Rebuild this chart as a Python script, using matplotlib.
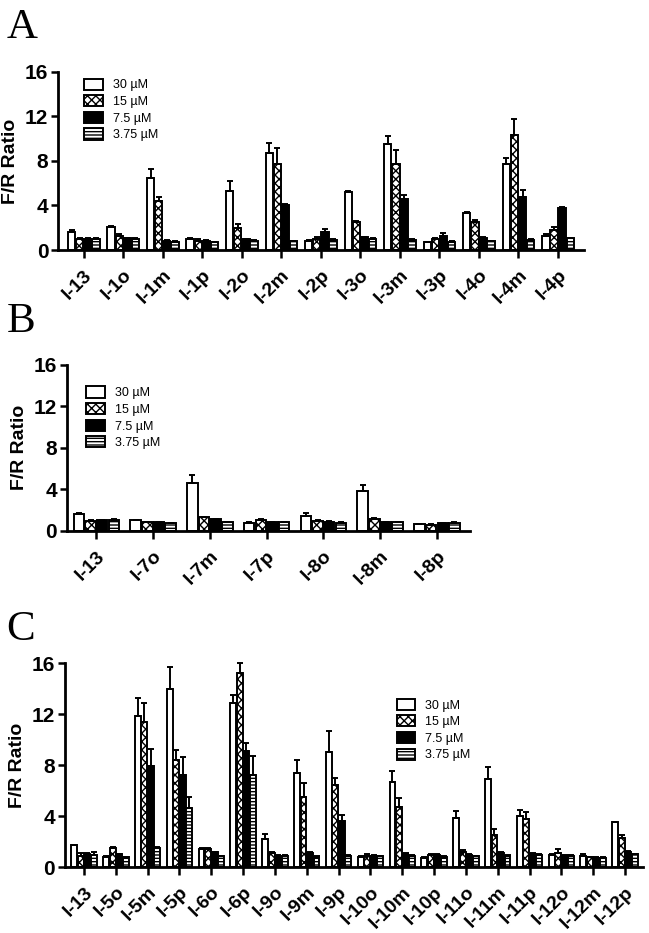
import matplotlib
matplotlib.use('Agg')
import matplotlib.pyplot as plt
import numpy as np

plt.rcParams.update({
    'font.family': ['Liberation Sans', 'DejaVu Sans'],
    'hatch.linewidth': 1.0,
    'axes.linewidth': 2.0,
})

# ========== DATA ==========
conc = ['30 µM', '15 µM', '7.5 µM', '3.75 µM']

a_labels = ['I-13', 'I-1o', 'I-1m', 'I-1p', 'I-2o', 'I-2m', 'I-2p',
            'I-3o', 'I-3m', 'I-3p', 'I-4o', 'I-4m', 'I-4p']
a_means = [
    [1.65, 2.1, 6.5, 0.95, 5.3, 8.75, 0.85, 5.2, 9.5, 0.7, 3.3, 7.7, 1.3],
    [0.95, 1.25, 4.4, 0.85, 1.95, 7.7, 1.0, 2.5, 7.7, 1.0, 2.5, 10.35, 1.8],
    [1.0, 1.05, 0.85, 0.85, 0.95, 4.0, 1.65, 1.15, 4.55, 1.3, 1.1, 4.8, 3.8],
    [1.0, 1.0, 0.75, 0.7, 0.85, 0.8, 0.9, 1.0, 0.9, 0.75, 0.8, 0.9, 1.05],
]
a_errs = [
    [0.15, 0.1, 0.8, 0.1, 0.9, 0.85, 0.05, 0.1, 0.7, 0.05, 0.1, 0.6, 0.15],
    [0.1, 0.15, 0.4, 0.15, 0.35, 1.5, 0.2, 0.1, 1.3, 0.1, 0.2, 1.45, 0.3],
    [0.05, 0.05, 0.05, 0.05, 0.05, 0.1, 0.2, 0.05, 0.4, 0.2, 0.1, 0.6, 0.1],
    [0.05, 0.05, 0.05, 0.05, 0.05, 0.05, 0.05, 0.05, 0.05, 0.05, 0.05, 0.05, 0.05],
]

b_labels = ['I-13', 'I-7o', 'I-7m', 'I-7p', 'I-8o', 'I-8m', 'I-8p']
b_means = [
    [1.65, 1.0, 4.65, 0.8, 1.45, 3.8, 0.65],
    [0.95, 0.85, 1.3, 1.05, 0.95, 1.15, 0.6],
    [1.0, 0.85, 1.1, 0.85, 0.9, 0.85, 0.75],
    [1.0, 0.75, 0.85, 0.85, 0.8, 0.85, 0.8],
]
b_errs = [
    [0.05, 0.05, 0.75, 0.05, 0.3, 0.6, 0.05],
    [0.05, 0.05, 0.05, 0.1, 0.05, 0.05, 0.05],
    [0.05, 0.05, 0.05, 0.05, 0.05, 0.05, 0.05],
    [0.1, 0.05, 0.05, 0.05, 0.05, 0.05, 0.05],
]

c_labels = ['I-13', 'I-5o', 'I-5m', 'I-5p', 'I-6o', 'I-6p', 'I-9o', 'I-9m', 'I-9p',
            'I-10o', 'I-10m', 'I-10p', 'I-11o', 'I-11m', 'I-11p', 'I-12o', 'I-12m', 'I-12p']
c_means = [
    [1.7, 0.8, 11.87, 14.0, 1.45, 12.9, 2.2, 7.4, 9.0, 0.8, 6.65, 0.7, 3.85, 6.9, 4.0, 0.95, 0.9, 3.5],
    [0.85, 1.5, 11.4, 8.4, 1.4, 15.25, 1.1, 5.5, 6.4, 0.9, 4.7, 0.95, 1.2, 2.55, 3.8, 1.1, 0.75, 2.3],
    [1.0, 1.0, 7.9, 7.2, 1.15, 9.1, 0.9, 1.1, 3.65, 0.9, 1.0, 0.95, 0.95, 1.1, 1.0, 0.9, 0.7, 1.2],
    [0.95, 0.75, 1.5, 4.6, 0.85, 7.2, 0.9, 0.8, 0.85, 0.85, 0.9, 0.8, 0.85, 0.9, 0.95, 0.9, 0.7, 1.0],
]
c_errs = [
    [0.05, 0.05, 1.4, 1.7, 0.05, 0.6, 0.4, 1.0, 1.7, 0.05, 0.85, 0.05, 0.55, 0.95, 0.5, 0.1, 0.1, 0.05],
    [0.25, 0.1, 1.5, 0.8, 0.1, 0.75, 0.1, 1.1, 0.6, 0.1, 0.7, 0.1, 0.1, 0.4, 0.5, 0.3, 0.05, 0.2],
    [0.1, 0.05, 1.35, 1.4, 0.05, 0.6, 0.05, 0.1, 0.45, 0.05, 0.1, 0.1, 0.05, 0.1, 0.1, 0.05, 0.05, 0.05],
    [0.2, 0.05, 0.05, 0.9, 0.05, 1.5, 0.05, 0.05, 0.1, 0.05, 0.05, 0.05, 0.05, 0.05, 0.05, 0.05, 0.05, 0.05],
]

# ========== STYLE ==========
faces = ['white', 'white', 'black', 'white']
hatches = [None, 'xxxx', None, '-----']
step = 0.205
width = 0.185


def panel(ax, labels, means, errs, xlim, leg_anchor):
    x = np.arange(len(labels))
    for i in range(4):
        pos = x + (i - 1.5) * step
        ax.bar(pos, means[i], width, color=faces[i], hatch=hatches[i],
               edgecolor='black', linewidth=1.4, label=conc[i], zorder=2)
        ax.errorbar(pos, means[i], yerr=[np.zeros(len(labels)), errs[i]],
                    fmt='none', ecolor='black', elinewidth=1.4, capsize=2,
                    capthick=1.4, zorder=3, clip_on=False)
    ax.set_xlim(*xlim)
    ax.set_ylim(0, 16)
    ax.set_yticks([0, 4, 8, 12, 16])
    ax.set_xticks(x)
    ax.set_xticklabels(labels, rotation=45, ha='right', rotation_mode='anchor',
                       fontsize=14, fontweight='bold')
    for t in ax.get_yticklabels():
        t.set_fontsize(15)
        t.set_fontweight('bold')
    ax.tick_params(axis='both', direction='out', length=5, width=1.8, pad=2)
    ax.tick_params(axis='x', length=6, pad=6)
    ax.spines['top'].set_visible(False)
    ax.spines['right'].set_visible(False)
    ax.set_ylabel('F/R Ratio', fontsize=14, fontweight='bold', labelpad=4)
    ax.legend(loc='upper left', bbox_to_anchor=leg_anchor, frameon=False,
              fontsize=9, handlelength=1.5, handleheight=1.0,
              labelspacing=0.3, handletextpad=0.8, borderaxespad=0)


fig = plt.figure(figsize=(6.49, 9.33), dpi=100)

axA = fig.add_axes([0.0894, 0.732, 0.810, 0.191])
panel(axA, a_labels, a_means, a_errs, (-0.65, 12.65), (0.04, 0.99))

axB = fig.add_axes([0.103, 0.431, 0.621, 0.178])
panel(axB, b_labels, b_means, b_errs, (-0.52, 6.58), (0.035, 0.90))

axC = fig.add_axes([0.100, 0.0707, 0.891, 0.2186])
panel(axC, c_labels, c_means, c_errs, (-0.6, 17.57), (0.565, 0.85))

for letter, y in [('A', 0.959), ('B', 0.644), ('C', 0.314)]:
    fig.text(0.01, y, letter, fontsize=31, family='Liberation Serif',
             ha='left', va='baseline')

fig.savefig('out.png', dpi=100)
